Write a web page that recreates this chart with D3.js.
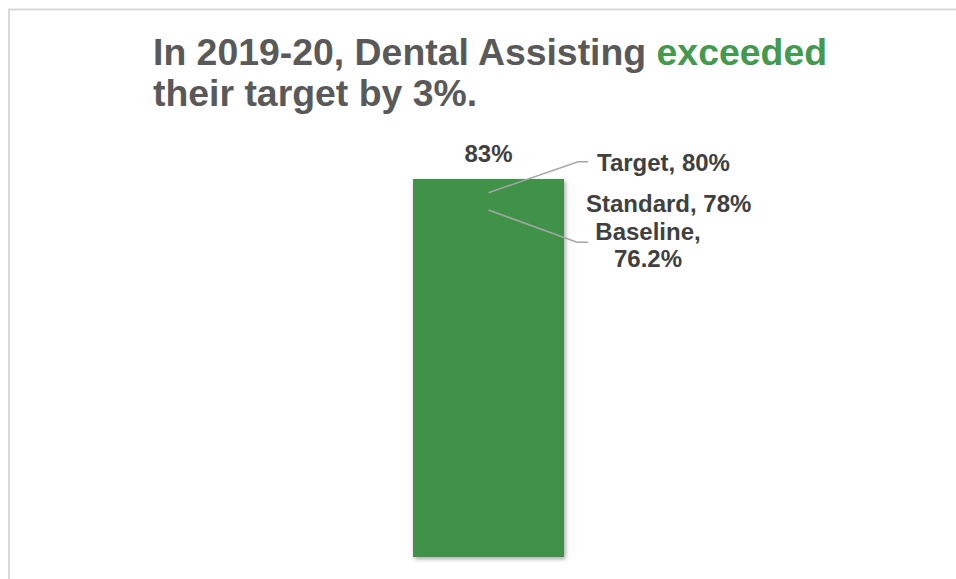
<!DOCTYPE html>
<html>
<head>
<meta charset="utf-8">
<script src="https://cdn.jsdelivr.net/npm/d3@7"></script>
<style>
  html, body { margin: 0; padding: 0; background: #fff; overflow: hidden; }
  svg { display: block; }
  text { font-family: "Liberation Sans", Arial, sans-serif; font-weight: bold; }
</style>
</head>
<body>
<svg id="chart" width="956" height="579"></svg>
<script>
// ---- data ----
const categories = ["Dental Assisting"];
const values = [0.83];
const refNames = ["Target", "Standard", "Baseline"];
const refValues = [0.80, 0.78, 0.762];
const titleLine1 = ["In 2019-20, Dental Assisting ", "exceeded"];
const titleLine2 = "their target by 3%.";

const fmt = v => (Math.round(v * 1000) / 10) + "%";

const svg = d3.select("#chart");
const W = 956, H = 579;

// chart border: only top and left edges are visible in the frame
svg.append("path")
  .attr("d", `M9,${H} L9,9.5 L${W},9.5`)
  .attr("fill", "none").attr("stroke", "#d9d9d9").attr("stroke-width", 2);

// title
const t1 = svg.append("text").attr("x", 153).attr("y", 65)
  .attr("font-size", 37.4).attr("fill", "#595959");
t1.append("tspan").text(titleLine1[0]);
t1.append("tspan").attr("fill", "#43994D").text(titleLine1[1]);
svg.append("text").attr("x", 153).attr("y", 106)
  .attr("font-size", 37.4).attr("fill", "#595959").text(titleLine2);

// scales
const x = d3.scaleBand().domain(categories).range([262, 715]).padding(0.5);
const y = d3.scaleLinear().domain([0, 1]).range([557, 101.6]);

// shadow
const defs = svg.append("defs");
const f = defs.append("filter").attr("id", "shadow")
  .attr("x", "-10%").attr("y", "-10%").attr("width", "130%").attr("height", "130%");
f.append("feDropShadow").attr("dx", 1.5).attr("dy", 2)
  .attr("stdDeviation", 2).attr("flood-color", "#000").attr("flood-opacity", 0.35);

// bar
svg.selectAll("rect.bar").data(values).join("rect")
  .attr("class", "bar")
  .attr("x", (d, i) => x(categories[i]))
  .attr("width", x.bandwidth())
  .attr("y", d => y(d))
  .attr("height", d => y(0) - y(d))
  .attr("fill", "#3F924A")
  .attr("filter", "url(#shadow)");

// value label
svg.selectAll("text.val").data(values).join("text")
  .attr("class", "val")
  .attr("x", (d, i) => x(categories[i]) + x.bandwidth() / 2)
  .attr("y", d => y(d) - 17)
  .attr("text-anchor", "middle")
  .attr("font-size", 24).attr("fill", "#404040")
  .text(d => fmt(d));

// reference labels with leader lines
const cx = x(categories[0]) + x.bandwidth() / 2;
const lab = "#404040";

// Target
const tY = y(refValues[0]);
svg.append("polyline")
  .attr("points", [[cx, tY], [578, 161.7], [588, 161.7]].map(p => p.join(",")).join(" "))
  .attr("fill", "none").attr("stroke", "#a6a6a6").attr("stroke-width", 1.5);
svg.append("text").attr("x", 597).attr("y", 171)
  .attr("font-size", 24).attr("fill", lab)
  .text(refNames[0] + ", " + fmt(refValues[0]));

// Standard (no leader)
svg.append("text").attr("x", 586).attr("y", 212)
  .attr("font-size", 24).attr("fill", lab)
  .text(refNames[1] + ", " + fmt(refValues[1]));

// Baseline
const bY = y(refValues[2]);
svg.append("polyline")
  .attr("points", [[cx, bY], [577, 242.3], [588, 242.3]].map(p => p.join(",")).join(" "))
  .attr("fill", "none").attr("stroke", "#a6a6a6").attr("stroke-width", 1.5);
const bt = svg.append("text").attr("font-size", 24).attr("fill", lab).attr("text-anchor", "middle");
bt.append("tspan").attr("x", 648).attr("y", 239.5).text(refNames[2] + ",");
bt.append("tspan").attr("x", 648).attr("y", 267).text(fmt(refValues[2]));
</script>
</body>
</html>
